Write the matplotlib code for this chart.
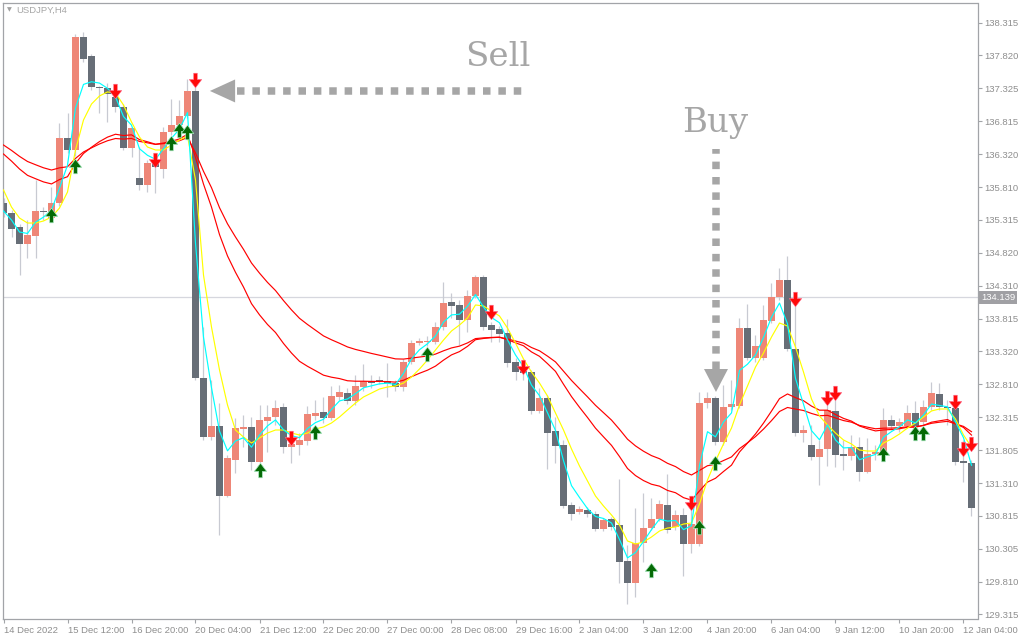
import numpy as np
import matplotlib
matplotlib.use("Agg")
import matplotlib.pyplot as plt
from matplotlib.path import Path
from matplotlib.patches import Polygon
from matplotlib.transforms import blended_transform_factory

# USDJPY H4 candles (open, high, low, close)
opens = [135.573, 135.421, 135.208, 134.949, 135.072, 135.452, 135.345, 135.573, 136.563, 136.381,
         138.101, 137.813, 137.340, 137.325, 137.188, 137.035, 136.411, 135.954, 135.848, 136.183,
         136.092, 136.655, 136.762, 136.899, 137.280, 132.909, 132.010, 132.178, 131.112, 131.660,
         132.132, 132.162, 131.630, 132.254, 132.315, 132.467, 131.858, 131.889, 131.950, 132.331,
         132.392, 132.300, 132.619, 132.680, 132.559, 132.772, 132.863, 132.878, 132.863, 132.832,
         132.772, 133.152, 133.441, 133.457, 133.457, 133.685, 134.066, 134.021, 133.792, 134.158,
         134.446, 133.716, 133.655, 133.594, 133.152, 133.016, 133.000, 132.407, 132.604, 132.102,
         131.889, 130.975, 130.868, 130.899, 130.838, 130.609, 130.762, 130.670, 130.122, 129.787,
         130.396, 130.624, 130.762, 130.975, 130.640, 130.823, 130.381, 130.381, 132.528, 132.604,
         131.934, 132.467, 132.483, 133.670, 133.213, 133.213, 133.777, 134.142, 134.401, 133.350,
         132.071, 131.889, 131.706, 131.828, 132.407, 131.751, 131.721, 131.858, 131.477, 131.751,
         131.767, 132.269, 132.178, 132.178, 132.376, 132.239, 132.467, 132.665, 132.467, 132.452,
         131.645, 131.614]
highs = [135.650, 135.467, 135.254, 135.315, 135.924, 135.512, 135.817, 136.792, 136.944, 138.147,
         138.178, 137.843, 137.356, 137.401, 137.325, 137.081, 136.731, 136.426, 136.229, 136.305,
         136.731, 137.158, 137.142, 137.462, 137.447, 133.685, 132.878, 132.528, 131.736, 132.300,
         132.346, 132.315, 132.498, 132.498, 132.574, 132.528, 131.965, 132.071, 132.483, 132.574,
         132.619, 132.787, 132.802, 132.756, 132.955, 133.122, 132.955, 132.940, 133.137, 132.878,
         133.198, 133.487, 133.518, 133.549, 133.762, 134.371, 134.203, 134.097, 134.249, 134.477,
         134.477, 133.762, 133.701, 133.807, 133.213, 133.092, 133.031, 132.756, 132.650, 132.315,
         131.965, 131.021, 130.960, 130.944, 130.884, 130.777, 130.792, 131.371, 130.366, 130.929,
         131.157, 131.082, 131.051, 131.447, 130.899, 130.929, 130.944, 132.696, 132.696, 132.635,
         132.802, 132.878, 133.822, 134.036, 133.564, 134.021, 134.355, 134.584, 134.767, 134.097,
         132.193, 132.193, 131.965, 132.498, 132.574, 131.965, 132.041, 132.010, 131.995, 131.889,
         132.452, 132.346, 132.300, 132.498, 132.559, 132.574, 132.848, 132.832, 132.574, 132.498,
         131.965, 131.660]
lows = [135.360, 135.056, 134.477, 134.736, 134.736, 135.315, 135.285, 135.528, 136.335, 136.290,
        137.721, 137.295, 136.944, 136.808, 136.960, 136.381, 136.274, 135.772, 135.741, 135.726,
        135.954, 136.609, 136.716, 136.868, 132.878, 131.965, 131.965, 130.518, 131.096, 131.462,
        131.858, 131.508, 131.584, 131.782, 132.193, 131.767, 131.614, 131.736, 131.889, 132.269,
        132.223, 132.269, 132.574, 132.513, 132.498, 132.711, 132.756, 132.817, 132.619, 132.711,
        132.711, 133.122, 133.411, 133.396, 133.426, 133.640, 133.822, 133.411, 133.610, 134.127,
        133.640, 133.457, 133.457, 133.076, 132.878, 132.878, 132.361, 132.376, 131.523, 131.614,
        130.929, 130.746, 130.838, 130.792, 130.579, 130.579, 130.594, 129.787, 129.467, 129.574,
        130.107, 130.594, 130.731, 130.548, 130.594, 129.894, 130.244, 130.351, 132.452, 131.889,
        131.889, 132.422, 132.452, 133.183, 133.152, 133.183, 133.746, 134.097, 133.320, 132.026,
        131.934, 131.660, 131.280, 131.569, 131.553, 131.508, 131.660, 131.341, 131.462, 131.660,
        131.721, 132.117, 132.087, 132.147, 132.117, 132.193, 132.422, 132.422, 132.193, 131.584,
        131.325, 130.807]
closes = [135.421, 135.178, 134.949, 135.087, 135.452, 135.437, 135.573, 136.563, 136.381, 138.101,
          137.767, 137.340, 137.325, 137.234, 137.035, 136.411, 136.716, 135.848, 136.183, 136.122,
          136.655, 136.762, 136.899, 137.280, 132.909, 132.010, 132.178, 131.112, 131.690, 132.147,
          132.162, 131.630, 132.269, 132.315, 132.452, 131.858, 131.904, 131.965, 132.361, 132.376,
          132.300, 132.635, 132.696, 132.559, 132.787, 132.863, 132.832, 132.863, 132.832, 132.772,
          133.152, 133.441, 133.472, 133.472, 133.685, 134.051, 134.006, 133.792, 134.158, 134.446,
          133.685, 133.640, 133.579, 133.137, 133.000, 132.985, 132.407, 132.604, 132.071, 131.873,
          130.960, 130.838, 130.914, 130.838, 130.609, 130.746, 130.640, 130.107, 129.787, 130.396,
          130.624, 130.762, 130.990, 130.594, 130.823, 130.381, 130.685, 132.528, 132.604, 131.934,
          132.467, 132.513, 133.670, 133.213, 133.396, 133.792, 134.142, 134.401, 133.350, 132.071,
          132.117, 131.706, 131.828, 132.422, 131.736, 131.721, 131.858, 131.477, 131.751, 131.782,
          132.269, 132.178, 132.239, 132.376, 132.178, 132.467, 132.680, 132.467, 132.452, 131.630,
          131.614, 130.929]

# moving-average lines, one value per bar
ma_fast = [135.452, 135.315, 135.132, 135.110, 135.281, 135.359, 135.466, 135.800, 136.150, 137.020,
           137.380, 137.420, 137.400, 137.320, 137.190, 136.890, 136.760, 136.400, 136.300, 136.240,
           136.400, 136.560, 136.700, 136.950, 134.961, 133.530, 132.760, 132.100, 131.800, 131.950,
           132.000, 131.855, 132.040, 132.180, 132.270, 132.120, 132.030, 132.000, 132.140, 132.230,
           132.280, 132.430, 132.560, 132.590, 132.670, 132.760, 132.790, 132.820, 132.830, 132.810,
           132.980, 133.200, 133.340, 133.430, 133.550, 133.760, 133.870, 133.880, 134.000, 134.180,
           133.990, 133.830, 133.750, 133.490, 133.260, 133.080, 132.800, 132.640, 132.380, 132.110,
           131.650, 131.270, 131.090, 130.920, 130.800, 130.770, 130.701, 130.450, 130.170, 130.250,
           130.420, 130.600, 130.760, 130.730, 130.740, 130.600, 130.660, 131.580, 132.091, 132.013,
           132.240, 132.377, 133.024, 133.119, 133.258, 133.525, 133.834, 134.050, 133.734, 132.903,
           132.510, 132.108, 131.968, 132.195, 131.966, 131.844, 131.851, 131.664, 131.708, 131.745,
           132.007, 132.093, 132.166, 132.271, 132.225, 132.346, 132.513, 132.490, 132.471, 132.240,
           132.000, 131.580]
ma_mid = [135.772, 135.512, 135.345, 135.269, 135.269, 135.300, 135.360, 135.497, 135.741, 136.381,
          136.838, 137.081, 137.204, 137.265, 137.249, 137.066, 136.808, 136.578, 136.426, 136.381,
          136.381, 136.457, 136.533, 136.594, 135.924, 134.477, 133.685, 133.031, 132.498, 132.117,
          132.010, 131.919, 131.995, 132.071, 132.117, 132.117, 132.071, 132.041, 132.071, 132.132,
          132.163, 132.224, 132.315, 132.422, 132.528, 132.620, 132.680, 132.741, 132.772, 132.787,
          132.832, 132.924, 133.046, 133.183, 133.335, 133.487, 133.625, 133.716, 133.822, 134.021,
          134.006, 133.929, 133.853, 133.670, 133.441, 133.198, 133.000, 132.832, 132.635, 132.376,
          132.117, 131.828, 131.569, 131.341, 131.112, 130.960, 130.823, 130.670, 130.427, 130.381,
          130.412, 130.488, 130.579, 130.624, 130.640, 130.685, 130.701, 130.990, 131.356, 131.645,
          131.904, 132.147, 132.498, 132.787, 133.076, 133.289, 133.533, 133.746, 133.701, 133.381,
          133.000, 132.589, 132.330, 132.193, 132.071, 131.965, 131.904, 131.812, 131.797, 131.797,
          131.919, 131.980, 132.056, 132.147, 132.224, 132.315, 132.407, 132.437, 132.437, 132.284,
          132.041, 131.858]
ma_slow1 = [136.320, 136.212, 136.092, 135.995, 135.944, 135.895, 135.864, 135.931, 135.974, 136.177,
            136.328, 136.423, 136.509, 136.577, 136.621, 136.601, 136.612, 136.539, 136.506, 136.469,
            136.487, 136.513, 136.550, 136.620, 136.267, 135.862, 135.511, 135.093, 134.768, 134.518,
            134.294, 134.041, 133.871, 133.724, 133.602, 133.435, 133.289, 133.163, 133.087, 133.020,
            132.952, 132.921, 132.900, 132.867, 132.860, 132.860, 132.857, 132.857, 132.854, 132.846,
            132.875, 132.929, 132.981, 133.028, 133.090, 133.181, 133.261, 133.311, 133.391, 133.492,
            133.511, 133.523, 133.529, 133.492, 133.445, 133.400, 133.306, 133.239, 133.128, 133.010,
            132.814, 132.626, 132.463, 132.308, 132.145, 132.013, 131.883, 131.713, 131.531, 131.423,
            131.347, 131.291, 131.262, 131.197, 131.162, 131.087, 131.049, 131.189, 131.324, 131.382,
            131.485, 131.582, 131.782, 131.918, 132.057, 132.222, 132.405, 132.595, 132.666, 132.610,
            132.563, 132.481, 132.419, 132.419, 132.353, 132.294, 132.252, 132.178, 132.137, 132.103,
            132.118, 132.125, 132.136, 132.159, 132.160, 132.188, 132.236, 132.257, 132.276, 132.214,
            132.156, 132.040]
ma_slow2 = [136.457, 136.375, 136.284, 136.206, 136.157, 136.110, 136.076, 136.109, 136.126, 136.253,
            136.351, 136.414, 136.473, 136.522, 136.556, 136.547, 136.557, 136.512, 136.490, 136.466,
            136.478, 136.497, 136.522, 136.571, 136.335, 136.056, 135.807, 135.503, 135.257, 135.056,
            134.868, 134.660, 134.506, 134.365, 134.241, 134.088, 133.946, 133.818, 133.724, 133.637,
            133.550, 133.491, 133.438, 133.382, 133.344, 133.314, 133.283, 133.256, 133.228, 133.200,
            133.197, 133.212, 133.228, 133.244, 133.273, 133.323, 133.367, 133.394, 133.443, 133.509,
            133.520, 133.527, 133.530, 133.504, 133.472, 133.440, 133.373, 133.323, 133.242, 133.154,
            133.013, 132.872, 132.746, 132.622, 132.493, 132.381, 132.268, 132.127, 131.977, 131.875,
            131.794, 131.727, 131.680, 131.610, 131.560, 131.484, 131.432, 131.502, 131.573, 131.596,
            131.652, 131.707, 131.834, 131.922, 132.017, 132.131, 132.260, 132.399, 132.460, 132.436,
            132.414, 132.369, 132.334, 132.340, 132.300, 132.261, 132.236, 132.187, 132.160, 132.136,
            132.145, 132.147, 132.152, 132.166, 132.167, 132.187, 132.219, 132.236, 132.249, 132.210,
            132.172, 132.091]

# signal arrows: bar index and price level of the arrow
buy_bars = [6, 9, 21, 22, 23, 32, 39, 53, 81, 87, 89, 110, 114, 115]
buy_levels = [135.391, 136.130, 136.480, 136.693, 136.662, 131.508, 132.094, 133.274,
              129.985, 130.640, 131.607, 131.759, 132.079, 132.079]
sell_bars = [14, 19, 24, 36, 61, 65, 86, 99, 103, 104, 119, 120, 121]
sell_levels = [137.280, 136.229, 137.447, 131.988, 133.921, 133.084, 130.998, 134.112,
               132.597, 132.673, 132.551, 131.835, 131.911]

last_price = 134.139
price_ticks = [138.315, 137.820, 137.325, 136.815, 136.320, 135.810, 135.315, 134.820, 134.310,
               133.815, 133.320, 132.810, 132.315, 131.805, 131.310, 130.815, 130.305, 129.810, 129.315]
time_labels = ["14 Dec 2022", "15 Dec 12:00", "16 Dec 20:00", "20 Dec 04:00", "21 Dec 12:00",
               "22 Dec 20:00", "27 Dec 00:00", "28 Dec 08:00", "29 Dec 16:00", "2 Jan 04:00",
               "3 Jan 12:00", "4 Jan 20:00", "6 Jan 04:00", "9 Jan 12:00", "10 Jan 20:00",
               "12 Jan 04:00"]
label_step = 8

UP_COL = "#EE8677"
DN_COL = "#676E77"
WICK_COL = "#C8CAD2"
FRAME_COL = "#A2A4A8"
TEXT_COL = "#8E8E8E"
NOTE_COL = "#A6A6A6"

plt.rcParams["font.family"] = ["Liberation Sans", "DejaVu Sans"]

o = np.array(opens); h = np.array(highs); l = np.array(lows); c = np.array(closes)
x = np.arange(len(o))

fig = plt.figure(figsize=(10.24, 6.4), dpi=100, facecolor="white")
W, H = 1024.0, 640.0
left, right, top, bottom = 2.7, 977.5, 2.7, 619.0
ax = fig.add_axes([left / W, 1 - bottom / H, (right - left) / W, (bottom - top) / H])
ax.set_facecolor("white")
ax.set_xlim(-0.1, 121.75)
ax.set_ylim(129.239, 138.624)

# current price line
ax.axhline(last_price, color="#D6D7DE", lw=0.9, zorder=0.5)

# wicks then bodies
ax.vlines(x, l, h, color=WICK_COL, lw=0.9, zorder=1)
up = c > o
body_lo = np.minimum(o, c)
body_h = np.maximum(np.abs(c - o), 0.016)
ax.bar(x[up], body_h[up], bottom=body_lo[up], width=0.84, color=UP_COL, lw=0, zorder=2)
ax.bar(x[~up], body_h[~up], bottom=body_lo[~up], width=0.84, color=DN_COL, lw=0, zorder=2)

# moving averages over the candles
ax.plot(x, ma_slow2, color="#FF0000", lw=0.85, zorder=3)
ax.plot(x, ma_slow1, color="#FF0000", lw=0.85, zorder=3)
ax.plot(x, ma_mid, color="#FFFF00", lw=0.85, zorder=3.1)
ax.plot(x, ma_fast, color="#00FFFF", lw=0.85, zorder=3.2)

# arrow markers
dn_verts = [(-0.25, 1.0), (0.25, 1.0), (0.25, 0.14), (0.86, 0.14), (0.0, -1.0),
            (-0.86, 0.14), (-0.25, 0.14), (-0.25, 1.0)]
dn_marker = Path(dn_verts, closed=True)
up_marker = Path([(vx, -vy) for vx, vy in dn_verts], closed=True)
ax.scatter(sell_bars, sell_levels, marker=dn_marker, s=10.5 ** 2, color="#FF0A0A",
           edgecolors="#FF7090", linewidths=0.4, zorder=6)
ax.scatter(buy_bars, buy_levels, marker=up_marker, s=10.5 ** 2, color="#056A05",
           edgecolors="#A8E8C0", linewidths=0.5, zorder=6)

# axes frame and ticks
for sp in ax.spines.values():
    sp.set_color(FRAME_COL)
    sp.set_linewidth(0.9)
ax.yaxis.tick_right()
ax.set_yticks(price_ticks)
ax.set_yticklabels([f"{v:.3f}" for v in price_ticks])
ax.set_xticks(np.arange(len(time_labels)) * label_step)
ax.set_xticklabels(time_labels, ha="left")
ax.tick_params(axis="both", colors=FRAME_COL, labelcolor=TEXT_COL, labelsize=6.8,
               length=3, width=0.8, direction="out")
ax.tick_params(axis="y", pad=2)
ax.tick_params(axis="x", pad=2)

# last price tag on the scale
tr = blended_transform_factory(ax.transAxes, ax.transData)
ax.text(1.0035, last_price, f"{last_price:.3f}", transform=tr, ha="left", va="center",
        fontsize=6.8, color="white", zorder=10, clip_on=False,
        bbox=dict(boxstyle="square,pad=0.22", fc="#A0A0A4", ec="none"))

# symbol caption
fig.text(7 / W, 1 - 10 / H, "\u25BC", fontsize=4.5, color="#A0A0A0", va="center",
         family="DejaVu Sans")
fig.text(16 / W, 1 - 10 / H, "USDJPY,H4", fontsize=6.8, color="#A6A6A6", va="center")

# Sell note: dotted pointer running left to the big bearish candle
ax.text(61.8, 137.79, "Sell", fontsize=24.5, color=NOTE_COL, family="DejaVu Serif",
        ha="center", va="center", zorder=7)
ax.plot([29.17, 65.6], [137.280, 137.280], color=NOTE_COL, lw=5.4, dashes=(1.0, 1.05),
        solid_capstyle="butt", dash_capstyle="butt", zorder=7)
ax.add_patch(Polygon([[25.8, 137.280], [28.95, 137.455], [28.95, 137.105]], closed=True,
                     fc=NOTE_COL, ec="none", zorder=7))

# Buy note: dotted pointer running down to the reversal candle
ax.text(88.9, 136.79, "Buy", fontsize=24.5, color=NOTE_COL, family="DejaVu Serif",
        ha="center", va="center", zorder=7)
ax.plot([89.06, 89.06], [133.046, 136.396], color=NOTE_COL, lw=5.4, dashes=(1.0, 1.05),
        solid_capstyle="butt", dash_capstyle="butt", zorder=7)
ax.add_patch(Polygon([[89.06, 132.696], [87.56, 133.046], [90.56, 133.046]], closed=True,
                     fc=NOTE_COL, ec="none", zorder=7))

fig.savefig("out.png", dpi=100, facecolor="white")
